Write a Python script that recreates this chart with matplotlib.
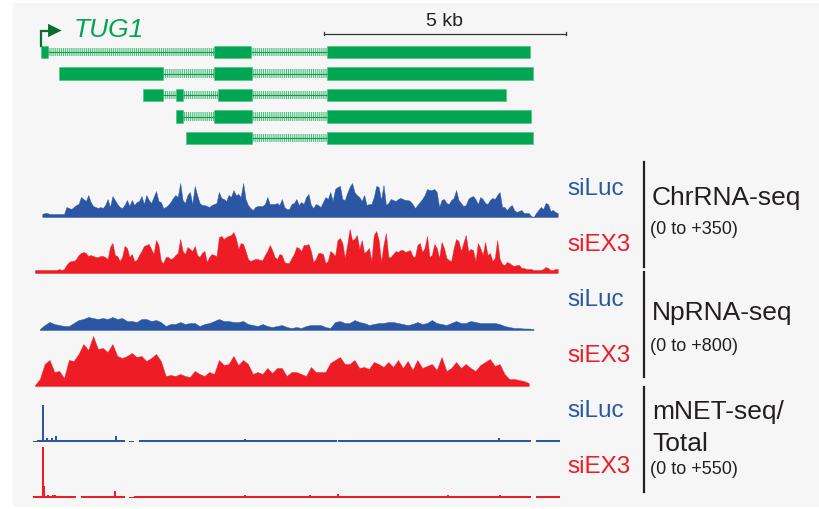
import numpy as np
import matplotlib
matplotlib.use("Agg")
import matplotlib.pyplot as plt
from matplotlib.patches import Rectangle, Polygon

nan = np.nan

# ---------------- data ----------------
BIN_KB = 0.1          # signal bin size (kb)
PX_PER_KB = 48.4      # horizontal scale of the browser view

# transcripts of TUG1: exon (start, end) in kb from the view start
tx_exons = [
    [(0.12, 0.27), (3.70, 4.46), (6.03, 10.23)],
    [(0.50, 2.65), (3.70, 4.48), (6.03, 10.29)],
    [(2.23, 2.65), (2.91, 3.06), (3.78, 4.48), (6.03, 9.73)],
    [(2.91, 3.06), (3.70, 4.48), (6.03, 10.25)],
    [(3.12, 4.48), (6.03, 10.29)],
]
tss_kb = 0.12
scale_start_kb = 5.97
scale_len_kb = 5.0

# ChrRNA-seq coverage (0 to +350); *_a at whole bins, *_b at half-bin offsets
chr_luc_a = [nan, nan, 4, 3, 3, 3, 3, 9, 10, 13,
             18, 22, 11, 9, 9, 18, 21, 13, 9, 17,
             17, 15, 21, 22, 14, 26, 15, 10, 15, 22,
             34, 14, 25, 31, 14, 12, 10, 13, 25, 18,
             22, 27, 23, 34, 12, 7, 11, 11, 20, 13,
             14, 18, 8, 13, 18, 15, 20, 12, 13, 10,
             20, 25, 28, 31, 17, 30, 25, 20, 22, 13,
             20, 30, 32, 14, 17, 18, 18, 17, 13, 12,
             18, 28, 27, 25, 17, 14, 17, 27, 14, 12,
             20, 18, 20, 14, 17, 18, 25, 10, 10, 7,
             6, 4, 4, 0, 7, 8, 13, 7, 4]
chr_luc_b = [nan, 3, 4, 3, 3, 3, 10, 8, 12, 20,
             16, 15, 10, 10, 12, 10, 17, 10, 12, 11,
             12, 16, 13, 17, 20, 16, 9, 12, 19, 20,
             17, 22, 13, 22, 12, 11, 12, 14, 19, 16,
             20, 22, 20, 18, 9, 10, 11, 13, 13, 13,
             12, 10, 8, 14, 12, 13, 23, 9, 12, 15,
             18, 16, 30, 18, 24, 34, 22, 16, 12, 13,
             31, 17, 12, 18, 16, 19, 17, 16, 9, 15,
             22, 27, 28, 10, 18, 13, 19, 17, 11, 18,
             21, 13, 18, 13, 19, 22, 10, 7, 12, 5,
             7, 4, 1, 4, 10, 14, 6, 5]
chr_ex3_a = [3, 3, 3, 3, 3, 4, 4, 11, 12, 18,
             21, 17, 17, 16, 17, 14, 30, 17, 16, 25,
             19, 13, 22, 28, 24, 33, 12, 16, 14, 18,
             34, 19, 24, 27, 16, 22, 16, 18, 36, 34,
             37, 41, 24, 29, 14, 13, 14, 13, 22, 23,
             14, 18, 10, 15, 26, 22, 28, 22, 14, 20,
             10, 22, 17, 35, 15, 44, 34, 24, 20, 25,
             38, 33, 28, 16, 19, 21, 23, 22, 17, 28,
             21, 37, 18, 25, 31, 15, 12, 34, 22, 38,
             24, 12, 25, 31, 20, 15, 14, 8, 10, 7,
             8, 5, 4, 3, 3, 4, 5, 3, 4]
chr_ex3_b = [3, 3, 3, 3, 3, 3, 8, 12, 14, 20,
             20, 18, 16, 17, 16, 26, 18, 12, 27, 16,
             12, 18, 27, 29, 19, 28, 10, 16, 15, 20,
             22, 26, 22, 18, 20, 11, 19, 17, 37, 36,
             38, 35, 30, 22, 12, 14, 13, 18, 28, 16,
             19, 11, 10, 19, 25, 28, 29, 11, 20, 19,
             12, 20, 33, 30, 28, 33, 38, 33, 22, 12,
             42, 11, 40, 16, 22, 23, 21, 23, 16, 30,
             25, 16, 29, 15, 25, 13, 25, 32, 30, 22,
             23, 30, 18, 18, 12, 33, 9, 11, 8, 8,
             5, 4, 4, 3, 3, 6, 3, 4]

# NpRNA-seq coverage (0 to +800)
np_luc = [nan, 1, 5, 8, 6, 5, 4, 4, 7, 10,
          11, 13, 12, 11, 12, 11, 13, 11, 12, 9,
          9, 8, 11, 11, 9, 10, 8, 4, 6, 6,
          8, 6, 7, 7, 4, 6, 7, 9, 11, 9,
          9, 8, 8, 9, 6, 5, 4, 6, 4, 3,
          4, 5, 3, 2, 3, 2, 4, 5, 5, 5,
          3, 2, 8, 9, 7, 7, 10, 8, 7, 5,
          6, 7, 7, 8, 8, 7, 6, 5, 6, 8,
          6, 7, 10, 7, 6, 5, 7, 9, 7, 7,
          9, 8, 7, 7, 7, 7, 6, 4, 3, 2,
          2, 1.5, 1.5, 1, nan, nan, nan, nan, nan]
np_ex3 = [1, 7, 22, 26, 14, 15, 8, 26, 25, 32,
          42, 36, 50, 37, 38, 34, 42, 30, 28, 30,
          33, 29, 30, 25, 28, 32, 25, 10, 11, 10,
          12, 10, 9, 15, 12, 10, 14, 12, 26, 21,
          22, 30, 21, 26, 22, 12, 14, 12, 18, 13,
          18, 18, 10, 14, 14, 12, 10, 19, 14, 14,
          14, 23, 26, 29, 22, 22, 26, 18, 19, 17,
          24, 22, 19, 24, 19, 26, 18, 25, 16, 26,
          18, 20, 22, 16, 29, 15, 18, 24, 18, 22,
          18, 15, 21, 24, 27, 20, 22, 12, 7, 7,
          6, 5, 3, nan, nan, nan, nan, nan, nan]

# mNET-seq/Total (0 to +550): low background per bin + sharp peaks
mnet_luc = [1.2, 2, 2, 2, 2, 2, 2, 2, 2, 2,
            2, 2, 2, 2, 2, 2, 2, 2, 2, nan,
            1.2, nan, 2, 2, 2, 2, 2, 2, 2, 2,
            2, 2, 2, 2, 2, 2, 2, 2, 2, 2,
            2, 2, 2, 2, 2, 2, 2, 2, 2, 2,
            2, 2, 2, 2, 2, 2, 2, 2, 2, 2,
            2, 2, 2, 2, 2, 2, 2, 2, 2, 2,
            2, 2, 2, 2, 2, 2, 2, 2, 2, 2,
            2, 2, 2, 2, 2, 2, 2, 2, 2, 2,
            2, 2, 2, 2, 2, 2, 2, 2, 2, 2,
            2, 2, 2, nan, 2, 2, 2, 2, 2]
mnet_ex3 = [2, 2, 2, 2, 2, 2, 2, 2, 2, nan,
            2, 2, 2, 2, 2, 2, 2, 2, 2, nan,
            1, 2, 2, 2, 2, 2, 2, 2, 2, 2,
            2, 2, 2, 2, 2, 2, 2, 2, 2, 2,
            2, 2, 2, 2, 2, 2, 2, 2, 2, 2,
            2, 2, 2, 2, 2, 2, 2, 2, 2, 2,
            2, 2, 2, 2, 2, 2, 2, 2, 2, 2,
            2, 2, 2, 2, 2, 2, 2, 2, 2, 2,
            2, 2, 2, 2, 2, 2, 2, 2, 2, 2,
            2, 2, 2, 2, 2, 2, 2, 2, 2, 2,
            2, 2, 2, nan, 2, 2, 2, 2, 2]
mnet_luc_peak_kb = [0.17, 0.24, 0.35, 0.43, 1.67, 4.34, 8.51, 9.59]
mnet_luc_peak_h = [37, 4, 4, 6, 6, 3, 2, 4]
mnet_ex3_peak_kb = [0.17, 0.19, 0.27, 0.37, 0.41, 1.65, 4.34, 5.68, 6.26, 8.53, 9.61]
mnet_ex3_peak_h = [51, 12, 3, 3, 3, 7, 3, 3, 4, 3, 3]

samples = ["siLuc", "siEX3"]
assays = [["ChrRNA-seq"], ["NpRNA-seq"], ["mNET-seq/", "Total"]]
ranges = ["(0 to +350)", "(0 to +800)", "(0 to +550)"]

# ---------------- style ----------------
BG = "#f6f6f6"
BLUE = "#2a56a3"
RED = "#ee1c25"
GREEN = "#00a651"
DKGREEN = "#0d6b36"
TXT = "#231f20"
FONT = "Liberation Sans"

W, H = 820, 510
fig = plt.figure(figsize=(W / 100, H / 100), dpi=100, facecolor="white")

X0 = 35  # pixel of 0 kb
XLIM = (-X0 / PX_PER_KB, (W - X0) / PX_PER_KB)

# overlay in pixel coordinates for panel background and labels
ov = fig.add_axes([0, 0, 1, 1], zorder=0)
ov.set_xlim(0, W)
ov.set_ylim(H, 0)
ov.axis("off")
ov.add_patch(Rectangle((13, 4), W - 13, H - 6, facecolor=BG, edgecolor="none"))


def px_axes(top, height, z=1):
    ax = fig.add_axes([0, 1 - (top + height) / H, 1, height / H], zorder=z)
    ax.set_xlim(*XLIM)
    ax.axis("off")
    ax.patch.set_alpha(0)
    return ax


# ---------------- gene models ----------------
ROW = 21.5
gax = px_axes(53 - ROW / 2, ROW * len(tx_exons), z=2)
gax.set_ylim(len(tx_exons) - 0.5, -0.5)
plt.rcParams["hatch.linewidth"] = 0.6
EXH = 0.56
INH = 0.38
for r, exons in enumerate(tx_exons):
    for (s0, e0), (s1, e1) in zip(exons[:-1], exons[1:]):
        gax.add_patch(Rectangle((e0, r - INH / 2), s1 - e0, INH, facecolor="#d6f0e0",
                                edgecolor="#3db56f", hatch="||||||||", linewidth=0))
        gax.plot([e0, s1], [r, r], color="#13994f", lw=0.8, solid_capstyle="butt")
    for s, e in exons:
        gax.add_patch(Rectangle((s, r - EXH / 2), e - s, EXH, facecolor=GREEN,
                                edgecolor="#4cc07f", linewidth=0.4))

# TSS arrow
ytop = -1.0
gax.plot([tss_kb, tss_kb, tss_kb + 0.17], [-0.3, ytop, ytop], color=DKGREEN,
         lw=1.6, clip_on=False, solid_joinstyle="miter")
gax.add_patch(Polygon([[tss_kb + 0.15, ytop - 0.31], [tss_kb + 0.15, ytop + 0.31],
                       [tss_kb + 0.43, ytop]], closed=True, facecolor=DKGREEN,
                      edgecolor="none", clip_on=False))
gax.text(tss_kb + 0.68, ytop + 0.27, "TUG1", color=GREEN, fontsize=19,
         fontstyle="italic", family=FONT, va="baseline", ha="left")

# scale bar
sy = -0.85
gax.plot([scale_start_kb, scale_start_kb + scale_len_kb], [sy, sy], color="#333333",
         lw=0.9, clip_on=False)
for xx in (scale_start_kb, scale_start_kb + scale_len_kb):
    gax.plot([xx, xx], [sy - 0.08, sy + 0.08], color="#333333", lw=0.9, clip_on=False)
gax.text(scale_start_kb + scale_len_kb / 2, sy - 0.42, "5 kb", color=TXT, fontsize=14,
         family=FONT, ha="center", va="baseline")

# ---------------- signal tracks ----------------
TRACK_H = 60


def coverage(baseline, vals, color, vals_half=None):
    ax = px_axes(baseline - TRACK_H, TRACK_H)
    ax.set_ylim(0, TRACK_H)
    v = np.array(vals, dtype=float)
    pos = np.arange(len(v)) * BIN_KB
    if vals_half is not None:
        vh = np.array(vals_half, dtype=float)
        pos = np.concatenate([pos, BIN_KB / 2 + np.arange(len(vh)) * BIN_KB])
        v = np.concatenate([v, vh])
        order = np.argsort(pos)
        pos, v = pos[order], v[order]
    ax.fill_between(pos, 0, v, color=color, lw=0.3, edgecolor=color)
    return ax


def mnet(baseline, vals, peaks_kb, peaks_h, color):
    ax = px_axes(baseline - TRACK_H, TRACK_H)
    ax.set_ylim(0, TRACK_H)
    v = np.array(vals, dtype=float)
    pos = np.arange(len(v)) * BIN_KB
    ax.bar(pos, v, width=BIN_KB, color=color, lw=0)
    ax.bar(peaks_kb, peaks_h, width=0.04, color=color, lw=0)
    return ax


coverage(218, chr_luc_a, BLUE, chr_luc_b)
coverage(274, chr_ex3_a, RED, chr_ex3_b)
coverage(331, np_luc, BLUE)
coverage(387, np_ex3, RED)
mnet(443, mnet_luc, mnet_luc_peak_kb, mnet_luc_peak_h, BLUE)
mnet(499, mnet_ex3, mnet_ex3_peak_kb, mnet_ex3_peak_h, RED)

# ---------------- labels ----------------
groups = [
    dict(luc=195, ex3=251, line=(163, 268), title=[205], rng=234),
    dict(luc=306, ex3=362, line=(273, 378), title=[320], rng=351),
    dict(luc=417, ex3=473, line=(388, 493), title=[419, 451], rng=474),
]
for g, assay, rng in zip(groups, assays, ranges):
    ov.text(567, g["luc"], samples[0], color=BLUE, fontsize=17.5, family=FONT, va="baseline")
    ov.text(567, g["ex3"], samples[1], color=RED, fontsize=17.5, family=FONT, va="baseline")
    ov.plot([644, 644], list(g["line"]), color=TXT, lw=1.6)
    for line, yb in zip(assay, g["title"]):
        ov.text(652, yb, line, color=TXT, fontsize=19, family=FONT, va="baseline")
    ov.text(650, g["rng"], rng, color=TXT, fontsize=13, family=FONT, va="baseline")

fig.savefig("out.png", dpi=100, facecolor="white")
